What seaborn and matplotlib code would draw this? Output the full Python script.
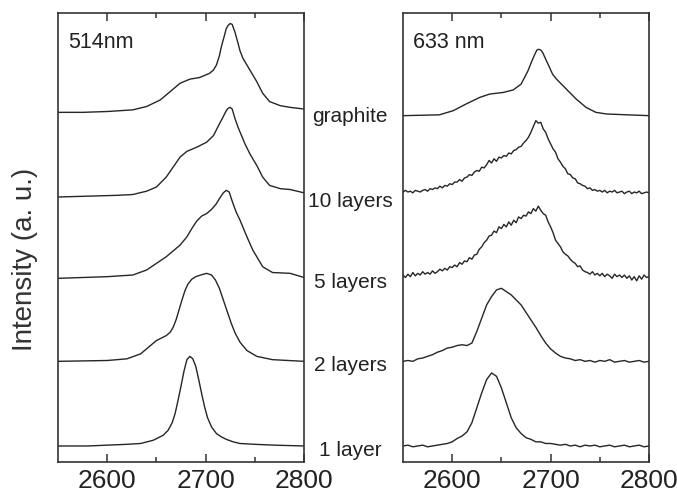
import matplotlib
matplotlib.use("Agg")
import matplotlib.pyplot as plt
import matplotlib.transforms as mtransforms
import seaborn as sns
import pandas as pd

sns.set_theme(style="ticks")
plt.rcParams["font.family"] = ["Liberation Sans", "DejaVu Sans"]

# ---------------- data (Raman shift, cm-1 ; intensity in offset units) -------------
labels = ["1 layer", "2 layers", "5 layers", "10 layers", "graphite"]
panel_titles = ["514nm", "633 nm"]

# 514 nm
l514_1_x = [2550, 2580, 2600, 2620, 2634, 2647, 2657, 2662, 2666, 2669, 2672, 2675, 2678, 2681, 2684, 2687, 2690, 2693,
            2696, 2699, 2702, 2706, 2711, 2716, 2721, 2728, 2735, 2750, 2770, 2800]
l514_1_y = [0.00, 0.00, 0.01, 0.02, 0.03, 0.07, 0.13, 0.19, 0.28, 0.39, 0.55, 0.72, 0.90, 1.04, 1.08, 1.05, 0.96, 0.80,
            0.63, 0.47, 0.34, 0.23, 0.15, 0.11, 0.08, 0.05, 0.03, 0.02, 0.01, 0.00]

l514_2_x = [2550, 2600, 2620, 2634, 2644, 2650, 2655, 2660, 2664, 2667, 2670, 2673, 2676, 2679, 2682, 2686, 2690, 2695,
            2701, 2706, 2710, 2714, 2718, 2722, 2726, 2730, 2735, 2742, 2752, 2768, 2800]
l514_2_y = [0.00, 0.01, 0.03, 0.09, 0.19, 0.25, 0.28, 0.31, 0.35, 0.41, 0.50, 0.62, 0.74, 0.85, 0.93, 0.99, 1.02, 1.04,
            1.06, 1.04, 0.98, 0.88, 0.74, 0.60, 0.46, 0.34, 0.23, 0.13, 0.06, 0.02, 0.00]

l514_5_x = [2550, 2575, 2600, 2626, 2640, 2650, 2660, 2667, 2674, 2681, 2686, 2691, 2696, 2701, 2706, 2711, 2714, 2718,
            2721, 2724, 2727, 2731, 2735, 2742, 2748, 2752, 2758, 2768, 2786, 2800]
l514_5_y = [0.00, 0.01, 0.02, 0.04, 0.10, 0.18, 0.26, 0.33, 0.40, 0.50, 0.60, 0.69, 0.75, 0.78, 0.83, 0.90, 0.96, 1.03,
            1.06, 1.04, 0.93, 0.80, 0.70, 0.50, 0.34, 0.26, 0.14, 0.07, 0.06, 0.01]

l514_10_x = [2550, 2580, 2610, 2626, 2640, 2650, 2660, 2667, 2674, 2681, 2691, 2701, 2708, 2714, 2718, 2721, 2723, 2725,
             2727, 2730, 2733, 2740, 2745, 2752, 2758, 2765, 2776, 2786, 2800]
l514_10_y = [0.00, 0.01, 0.02, 0.03, 0.07, 0.12, 0.24, 0.36, 0.48, 0.55, 0.60, 0.66, 0.74, 0.88, 0.97, 1.04, 1.07, 1.08,
             1.06, 0.94, 0.84, 0.64, 0.52, 0.38, 0.24, 0.14, 0.10, 0.09, 0.05]

l514_g_x = [2550, 2575, 2600, 2626, 2640, 2654, 2664, 2674, 2684, 2694, 2704, 2708, 2711, 2714, 2716, 2719, 2721, 2723,
            2725, 2727, 2730, 2733, 2735, 2738, 2745, 2752, 2758, 2765, 2776, 2786, 2800]
l514_g_y = [0.00, 0.00, 0.01, 0.03, 0.07, 0.15, 0.25, 0.35, 0.40, 0.42, 0.47, 0.51, 0.57, 0.68, 0.79, 0.92, 1.01, 1.05,
            1.07, 1.06, 0.96, 0.83, 0.74, 0.65, 0.51, 0.37, 0.23, 0.13, 0.08, 0.06, 0.04]

# 633 nm
grid_x = list(range(2550, 2801, 5))
fine_x = [2550 + 2.5 * i for i in range(101)]
l633_1_y = [0.00, 0.01, -0.01, 0.00, 0.01, -0.01, 0.00, 0.01, 0.02, 0.03, 0.05, 0.09, 0.12, 0.17, 0.28, 0.46, 0.64, 0.80, 0.88, 0.84,
            0.70, 0.52, 0.34, 0.22, 0.15, 0.10, 0.08, 0.05, 0.05, 0.03, 0.03, 0.02, 0.01, 0.02, 0.00, 0.01, -0.01, 0.01, 0.00, 0.01,
            -0.01, 0.00, 0.01, -0.01, 0.00, 0.01, -0.01, 0.00, 0.01, -0.01, 0.00]
l633_2_y = [0.00, 0.01, 0.00, 0.03, 0.04, 0.06, 0.08, 0.11, 0.13, 0.16, 0.17, 0.19, 0.20, 0.19, 0.22, 0.36, 0.52, 0.68, 0.78, 0.86,
            0.88, 0.84, 0.80, 0.74, 0.68, 0.59, 0.50, 0.41, 0.31, 0.22, 0.15, 0.10, 0.06, 0.04, 0.03, 0.01, 0.02, 0.00, 0.01, -0.01,
            0.01, 0.00, 0.02, -0.01, 0.00, 0.01, -0.01, 0.00, 0.01, -0.01, 0.00]
l633_5_y = [0.02, -0.01, 0.03, 0.00, 0.05, 0.01, 0.04, 0.02, 0.06, 0.03,
            0.05, 0.03, 0.07, 0.04, 0.06, 0.09, 0.07, 0.10, 0.08, 0.12,
            0.11, 0.14, 0.12, 0.17, 0.15, 0.19, 0.18, 0.23, 0.21, 0.26,
            0.27, 0.33, 0.36, 0.41, 0.44, 0.49, 0.50, 0.55, 0.53, 0.60,
            0.58, 0.63, 0.60, 0.66, 0.62, 0.68, 0.65, 0.72, 0.70, 0.74,
            0.73, 0.78, 0.76, 0.82, 0.79, 0.85, 0.80, 0.76, 0.74, 0.66,
            0.60, 0.53, 0.44, 0.40, 0.36, 0.30, 0.27, 0.25, 0.21, 0.18,
            0.16, 0.12, 0.13, 0.08, 0.06, 0.05, 0.03, 0.06, 0.02, 0.04,
            0.01, 0.04, 0.00, 0.03, 0.01, -0.02, 0.03, 0.00, 0.02, -0.01,
            0.02, -0.02, 0.01, -0.04, 0.00, -0.05, 0.01, -0.03, 0.02, -0.01,
            0.00]
l633_10_y = [0.00, 0.02, 0.00, 0.01, -0.01, 0.02, 0.01, 0.00, 0.02, 0.03,
             0.01, 0.04, 0.03, 0.05, 0.04, 0.07, 0.05, 0.08, 0.07, 0.10,
             0.09, 0.12, 0.12, 0.15, 0.13, 0.17, 0.18, 0.21, 0.20, 0.24,
             0.26, 0.25, 0.30, 0.29, 0.33, 0.38, 0.35, 0.40, 0.37, 0.42,
             0.41, 0.44, 0.43, 0.47, 0.46, 0.50, 0.51, 0.54, 0.55, 0.59,
             0.62, 0.66, 0.72, 0.79, 0.86, 0.83, 0.84, 0.76, 0.72, 0.64,
             0.58, 0.52, 0.48, 0.40, 0.36, 0.31, 0.28, 0.22, 0.21, 0.17,
             0.16, 0.11, 0.10, 0.08, 0.07, 0.04, 0.05, 0.02, 0.03, 0.01,
             0.02, 0.00, 0.02, -0.01, 0.01, 0.00, 0.02, -0.01, 0.00, 0.01,
             -0.02, 0.00, 0.01, -0.02, 0.00, -0.01, 0.01, -0.02, -0.01, 0.00,
             -0.01]
l633_g_x = [2550, 2587, 2601, 2614, 2628, 2638, 2652, 2662, 2670, 2677, 2681, 2684, 2686, 2688, 2690, 2692, 2695, 2699,
            2702, 2706, 2716, 2726, 2736, 2746, 2757, 2800]
l633_g_y = [0.00, 0.01, 0.06, 0.14, 0.22, 0.26, 0.28, 0.31, 0.38, 0.54, 0.66, 0.74, 0.79, 0.80, 0.79, 0.76, 0.68, 0.58,
            0.50, 0.44, 0.32, 0.20, 0.10, 0.04, 0.02, 0.00]

xticks = [2600, 2700, 2800]
xminor = [2650, 2750]

panels = [
    [(l514_1_x, l514_1_y), (l514_2_x, l514_2_y), (l514_5_x, l514_5_y), (l514_10_x, l514_10_y), (l514_g_x, l514_g_y)],
    [(grid_x, l633_1_y), (grid_x, l633_2_y), (fine_x, l633_5_y), (fine_x, l633_10_y), (l633_g_x, l633_g_y)],
]
offsets = [[0.0, 1.02, 2.02, 3.0, 4.02], [0.0, 1.02, 2.04, 3.06, 3.98]]

# ---------------- figure -------------
W, H = 677, 497
fig = plt.figure(figsize=(W / 100, H / 100), dpi=100)
ax_pos = [[58 / W, 35 / H, 246 / W, 449 / H], [403 / W, 35 / H, 246 / W, 449 / H]]
line_col = "#262626"
spine_col = "#333333"
tick_col = "#333333"

axes = []
for p, pos in enumerate(ax_pos):
    ax = fig.add_axes(pos)
    axes.append(ax)
    for (xs, ys), off in zip(panels[p], offsets[p]):
        df = pd.DataFrame({"shift": xs, "I": [v + off for v in ys]})
        sns.lineplot(data=df, x="shift", y="I", ax=ax, color=line_col, lw=1.0,
                     estimator=None, sort=False)
    ax.set_xlim(2550, 2800)
    ax.set_ylim(-0.193, 5.217)
    ax.set_xlabel("")
    ax.set_ylabel("")
    ax.set_xticks(xticks)
    ax.set_xticks(xminor, minor=True)
    ax.tick_params(axis="y", which="both", left=False, right=False, labelleft=False)
    ax.tick_params(axis="x", which="major", direction="in", top=True, bottom=True,
                   length=6, width=1.1, color=tick_col, labelsize=19, labelcolor="#222222", pad=5)
    ax.tick_params(axis="x", which="minor", direction="in", top=True, bottom=True,
                   length=3.5, width=1.1, color=tick_col)
    for s in ax.spines.values():
        s.set_visible(True)
        s.set_color(spine_col)
        s.set_linewidth(1.2)
    ax.text(0.04, 0.935, panel_titles[p], transform=ax.transAxes,
            fontsize=15.5, color="#222222", ha="left", va="center")

# layer labels between the panels
trans = mtransforms.blended_transform_factory(fig.transFigure, axes[0].transData)
for lab, off in zip(labels, offsets[0]):
    fig.text(350 / W, off - 0.05, lab, transform=trans, ha="center", va="center",
             fontsize=15, color="#222222")

fig.text(25 / W, 1 - 259 / H, "Intensity (a. u.)", rotation=90, ha="center", va="center",
         fontsize=20, color="#333333")

fig.savefig("out.png", dpi=100)
